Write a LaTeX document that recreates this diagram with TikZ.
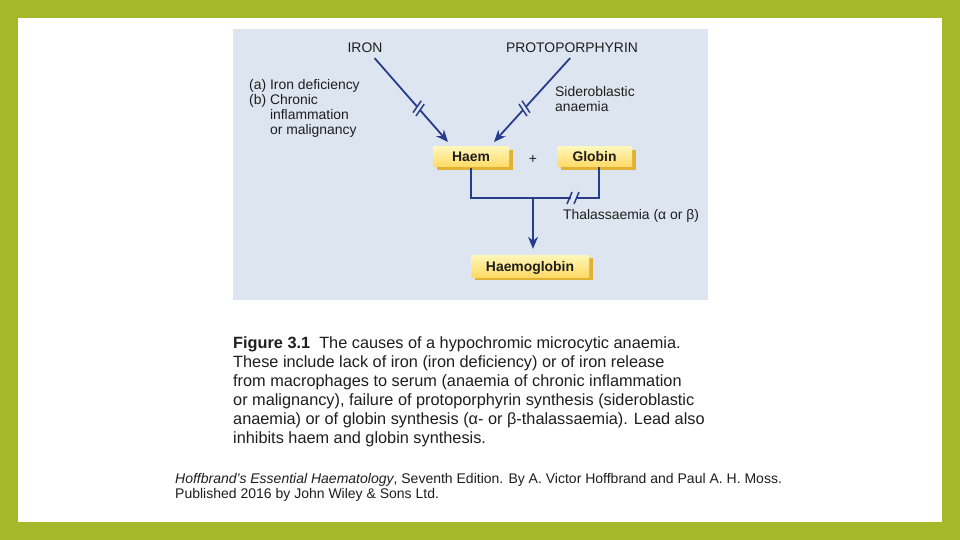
\documentclass[tikz,border=0pt]{standalone}
\usepackage{fontspec}
\setmainfont{Liberation Sans}
\usetikzlibrary{arrows.meta,shadows,decorations.markings,calc}
\definecolor{framegreen}{RGB}{164,185,42}
\definecolor{panel}{RGB}{221,229,240}
\definecolor{arrowblue}{RGB}{40,60,140}
\definecolor{boxtop}{RGB}{255,246,184}
\definecolor{boxbot}{RGB}{255,218,102}
\definecolor{boxshade}{RGB}{226,178,52}
\definecolor{txt}{RGB}{30,30,30}
\tikzset{
  lbl/.style={font=\fontsize{13.9}{14.7}\selectfont, text=txt, inner sep=0pt},
  ybox/.style={rectangle, top color=boxtop, bottom color=boxbot, draw=none,
    font=\fontsize{13.9}{15}\selectfont\bfseries, text=txt, inner sep=0pt,
    text height=10pt, text depth=0pt,
    general shadow={shadow xshift=4pt, shadow yshift=-3pt, fill=boxshade}},
  conn/.style={draw=arrowblue, line width=1.8pt},
  arr/.style={conn, -{Stealth[length=12pt,width=10pt]}},
  mk/.style={arrowblue, line width=1.5pt, arrows=-},
  brkA/.style={postaction={decorate}, decoration={markings,
    mark=at position 0.6 with {
      \fill[panel] (-2.5pt,-3pt) rectangle (2.5pt,3pt);
      \draw[mk] (-0.5pt,-7pt) -- (-4pt,7pt);
      \draw[mk] (4pt,-7pt) -- (0.5pt,7pt);}}},
  brkB/.style={postaction={decorate}, decoration={markings,
    mark=at position 0.6 with {
      \fill[panel] (-2.5pt,-3pt) rectangle (2.5pt,3pt);
      \draw[mk] (-4pt,-7pt) -- (-0.5pt,7pt);
      \draw[mk] (0.5pt,-7pt) -- (4pt,7pt);}}},
}
\begin{document}
\begin{tikzpicture}[x=1pt,y=-1pt]
\fill[framegreen] (0,0) rectangle (960,540);
\fill[white] (18,18) rectangle (942,522);
\useasboundingbox (0,0) rectangle (960,540);
\fill[panel] (233,29) rectangle (708,300);

% titles
\node[lbl] (iron) at (365,48) {IRON};
\node[lbl] (proto) at (572,48) {PROTOPORPHYRIN};

% boxes
\node[ybox, minimum width=76pt, minimum height=20pt] (haem) at (471,157) {Haem};
\node[ybox, minimum width=75pt, minimum height=20pt] (globin) at (594.5,157) {Globin};
\node[ybox, minimum width=118pt, minimum height=22pt] (hb) at (530,266) {Haemoglobin};
\node[lbl] (plus) at (533,159) {+};

% side labels
\node[lbl, anchor=north west, align=left] (causes) at (249,79.5)
  {\begin{tabular}{@{}l@{ }l}(a) & Iron deficiency\\(b) & Chronic\\ & inflammation\\ & or malignancy\end{tabular}};
\node[lbl, anchor=north west, align=left] (sidero) at (555,86.5)
  {Sideroblastic\\anaemia};
\node[lbl, anchor=west] (thal) at (563,216) {Thalassaemia (α or β)};

% connectors
\coordinate (ironend) at (448,142);
\coordinate (protoend) at (494,142);
\draw[arr, brkA] ([xshift=-8pt,yshift=-5pt]iron.south east) -- (ironend);
\draw[arr, brkB] ([xshift=-68pt,yshift=-5pt]proto.south east) -- (protoend);

\coordinate (jm) at (533,198);
\coordinate (gdown) at (599,167);
\draw[conn] ([yshift=-1pt]haem.south) |- (jm) -| (gdown);
\draw[arr, shorten >=6pt] (jm) -- (hb.north -| jm);
% thalassaemia break marks
\coordinate (thalbrk) at (573,198);
\fill[panel] ($(thalbrk)+(-2.5,-3)$) rectangle ($(thalbrk)+(2.5,3)$);
\draw[mk] ($(thalbrk)+(-6,6)$) -- ($(thalbrk)+(-1,-6)$);
\draw[mk] ($(thalbrk)+(1,6)$) -- ($(thalbrk)+(6,-6)$);

% caption
\node[anchor=north west, inner sep=0pt, align=left, text=txt,
  font=\fontsize{16.3}{19}\selectfont] (caption) at (233,336.5)
 {\textbf{Figure 3.1}\ \ The causes of a hypochromic microcytic anaemia.\\
 These include lack of iron (iron deficiency) or of iron release\\
 from macrophages to serum (anaemia of chronic inflammation\\
 or malignancy), failure of protoporphyrin synthesis (sideroblastic\\
 anaemia) or of globin synthesis (α- or β-thalassaemia). Lead also\\
 inhibits haem and globin synthesis.};

\node[anchor=north west, inner sep=0pt, align=left, text=txt,
  font=\fontsize{14}{15}\selectfont] (credit) at (175,473)
 {\textit{Hoffbrand's Essential Haematology}, Seventh Edition. By A. Victor Hoffbrand and Paul A. H. Moss.\\
 Published 2016 by John Wiley \& Sons Ltd.};
\end{tikzpicture}
\end{document}
